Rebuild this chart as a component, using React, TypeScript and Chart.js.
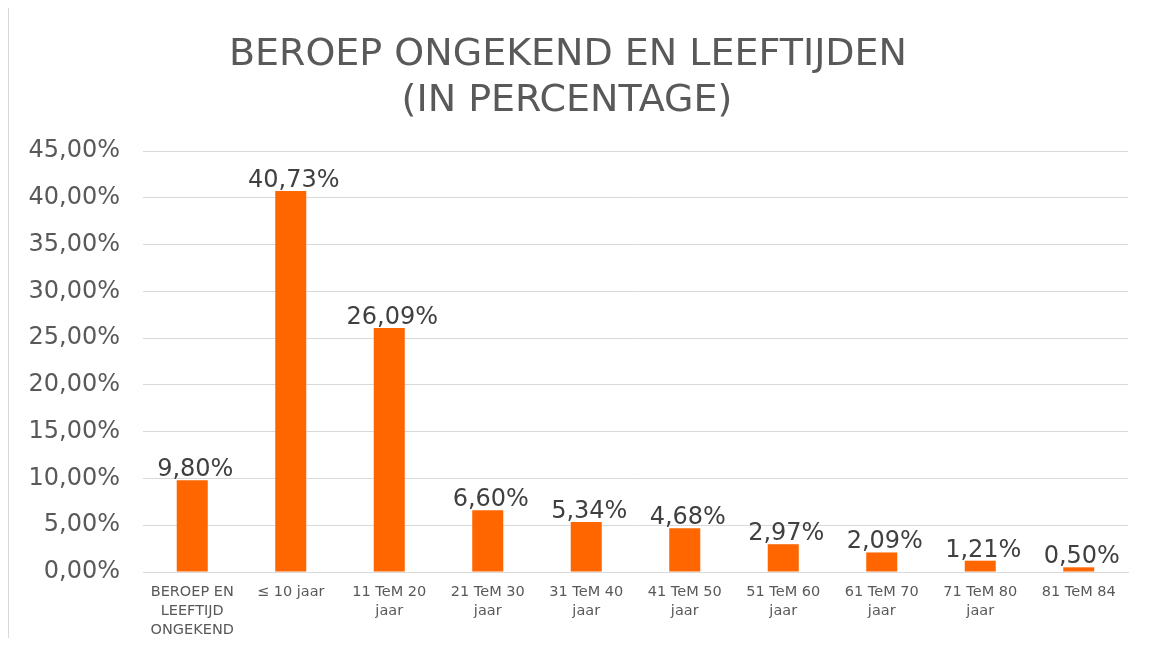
import React, { useEffect, useRef } from "react";
import { Chart, registerables } from "chart.js";

Chart.register(...registerables);

const titleLines = ["BEROEP ONGEKEND EN LEEFTIJDEN", "(IN PERCENTAGE)"];
const categories: string[][] = [
  ["BEROEP EN", "LEEFTIJD", "ONGEKEND"],
  ["≤ 10 jaar"],
  ["11 TeM 20", "jaar"],
  ["21 TeM 30", "jaar"],
  ["31 TeM 40", "jaar"],
  ["41 TeM 50", "jaar"],
  ["51 TeM 60", "jaar"],
  ["61 TeM 70", "jaar"],
  ["71 TeM 80", "jaar"],
  ["81 TeM 84"],
];
const percentages = [9.8, 40.73, 26.09, 6.6, 5.34, 4.68, 2.97, 2.09, 1.21, 0.5];
const yMin = 0;
const yMax = 45;
const yStep = 5;

const FONT = "'DejaVu Sans', Verdana, sans-serif";
const fmt = (v: number) => v.toFixed(2).replace(".", ",") + "%";

const titlePlugin = {
  id: "customTitle",
  afterDraw(chart: any) {
    const ctx = chart.ctx;
    ctx.save();
    ctx.font = `38px ${FONT}`;
    ctx.fillStyle = "#595959";
    ctx.textAlign = "center";
    ctx.textBaseline = "alphabetic";
    ctx.fillText(titleLines[0], 559, 57);
    ctx.fillText(titleLines[1], 558, 103);
    ctx.restore();
  },
};

const valueLabelPlugin = {
  id: "valueLabels",
  afterDatasetsDraw(chart: any) {
    const ctx = chart.ctx;
    const meta = chart.getDatasetMeta(0);
    const data = chart.data.datasets[0].data as number[];
    ctx.save();
    ctx.font = `24px ${FONT}`;
    ctx.fillStyle = "#404040";
    ctx.textAlign = "center";
    ctx.textBaseline = "alphabetic";
    meta.data.forEach((bar: any, i: number) => {
      ctx.fillText(fmt(data[i]), bar.x + 3, bar.y - 4);
    });
    ctx.restore();
  },
};

export default function App() {
  const ref = useRef<HTMLCanvasElement | null>(null);
  useEffect(() => {
    if (!ref.current) return;
    const chart = new Chart(ref.current, {
      type: "bar",
      data: {
        labels: categories,
        datasets: [
          {
            data: percentages,
            backgroundColor: "#FF6600",
            borderWidth: 0,
            categoryPercentage: 1,
            barPercentage: 0.315,
          },
        ],
      },
      options: {
        animation: false,
        responsive: false,
        maintainAspectRatio: false,
        layout: { padding: { left: 0, right: 26, top: 143, bottom: 0 } },
        plugins: {
          legend: { display: false },
          title: { display: false },
          tooltip: { enabled: false },
        },
        scales: {
          x: {
            grid: { display: false, drawTicks: false },
            border: { display: true, color: "#d9d9d9", width: 1 },
            ticks: {
              color: "#595959",
              font: { family: FONT, size: 14.5, lineHeight: 1.3 },
              padding: 11,
              maxRotation: 0,
              minRotation: 0,
              autoSkip: false,
            },
            afterFit(scale: any) {
              scale.height = 74;
            },
          },
          y: {
            min: yMin,
            max: yMax,
            grid: { color: "#d9d9d9", lineWidth: 1, drawTicks: false },
            border: { display: false },
            ticks: {
              stepSize: yStep,
              color: "#595959",
              font: { family: FONT, size: 24 },
              padding: 23,
              callback: (v: any) => fmt(Number(v)),
            },
            afterFit(scale: any) {
              scale.width = 134;
            },
          },
        },
      },
      plugins: [titlePlugin, valueLabelPlugin],
    });
    return () => chart.destroy();
  }, []);

  return (
    <div
      style={{
        marginTop: -1,
        marginBottom: -30,
        width: 1145,
        height: 660,
        borderLeft: "1px solid #d9d9d9",
        borderTop: "1px solid #d9d9d9",
        background: "#fff",
      }}
    >
      <canvas ref={ref} width={1145} height={638} style={{ display: "block" }} />
    </div>
  );
}
